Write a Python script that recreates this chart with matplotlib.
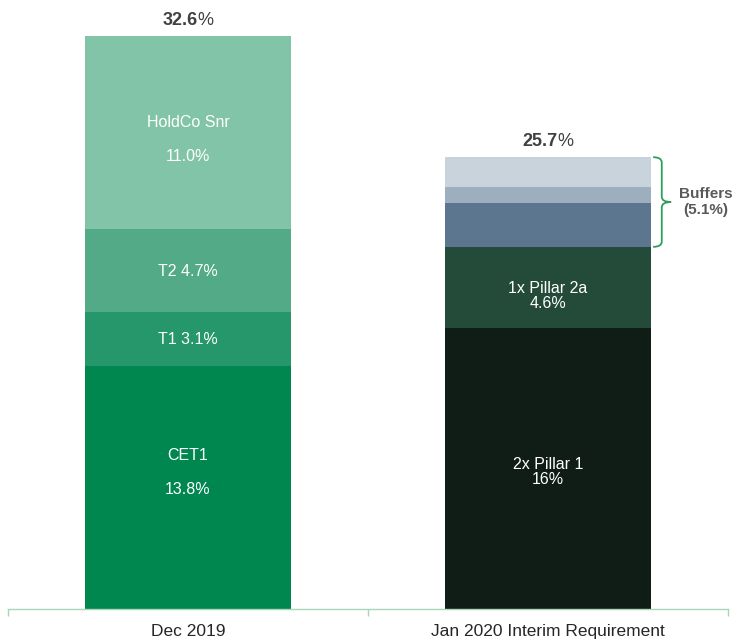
import matplotlib.pyplot as plt
from matplotlib.path import Path
from matplotlib.patches import PathPatch

plt.rcParams['font.family'] = ['Liberation Sans', 'DejaVu Sans']

# data
categories = ["Dec 2019", "Jan 2020 Interim Requirement"]
totals = [32.6, 25.7]

left_names = ["CET1", "T1", "T2", "HoldCo Snr"]
left_values = [13.8, 3.1, 4.7, 11.0]
left_colors = ["#00874F", "#25976A", "#52AA86", "#82C4A7"]

right_values = [16.0, 4.6, 2.5, 0.9, 1.7]
right_labels = ["2x Pillar 1\n16%", "1x Pillar 2a\n4.6%", "", "", ""]
right_colors = ["#101D16", "#244A3A", "#5C7690", "#9DAFBE", "#C9D3DC"]

buffer_text = "Buffers\n(5.1%)"

fig = plt.figure(figsize=(7.38, 6.41), dpi=100)
ax = fig.add_axes([8 / 738, 32 / 641, 720 / 738, 609 / 641])
ax.set_xlim(-0.5, 1.5)
ax.set_ylim(0, 609 / 17.58)

width = 0.572
white = dict(color="white", fontsize=11.5, ha="center", va="center")

# left stacked bar
bottom = 0
for name, v, c in zip(left_names, left_values, left_colors):
    ax.bar(0, v, width, bottom=bottom, color=c, linewidth=0)
    mid = bottom + v / 2
    if name == "CET1":
        ax.annotate(name, (0, mid), xytext=(0, 23), textcoords="offset points", **white)
        ax.annotate(f"{v:.1f}%", (0, mid), xytext=(0, -1), textcoords="offset points", **white)
    elif name == "HoldCo Snr":
        ax.annotate(name, (0, mid), xytext=(0, 7), textcoords="offset points", **white)
        ax.annotate(f"{v:.1f}%", (0, mid), xytext=(0, -17.5), textcoords="offset points", **white)
    else:
        ax.annotate(f"{name} {v:.1f}%", (0, mid), xytext=(0, -0.5), textcoords="offset points", **white)
    bottom += v

# right stacked bar
bottom = 0
offsets = [-2.5, -6, 0, 0, 0]
for lab, v, c, dy in zip(right_labels, right_values, right_colors, offsets):
    ax.bar(1, v, width, bottom=bottom, color=c, linewidth=0)
    if lab:
        ax.annotate(lab, (1, bottom + v / 2), xytext=(0, dy), textcoords="offset points",
                    linespacing=1.0, **white)
    bottom += v

# totals above bars (bold number, regular %)
for i, t in enumerate(totals):
    ax.annotate(f"{t:.1f}", (i, t), xytext=(6.9, 5), textcoords="offset points",
                ha="right", va="bottom", fontsize=13, fontweight="bold", color="#404040")
    ax.annotate("%", (i, t), xytext=(6.9, 5), textcoords="offset points",
                ha="left", va="bottom", fontsize=13, color="#404040")

# curly bracket for buffers
y0 = sum(right_values[:2])
y1 = sum(right_values)
ym = (y0 + y1) / 2
x0, x1, x2 = 1.292, 1.316, 1.342
d = 0.3
verts = [(x0, y0), (x1, y0), (x1, y0 + d),
         (x1, ym - d), (x1, ym), (x2, ym),
         (x1, ym), (x1, ym + d),
         (x1, y1 - d), (x1, y1), (x0, y1)]
codes = [Path.MOVETO, Path.CURVE3, Path.CURVE3,
         Path.LINETO, Path.CURVE3, Path.CURVE3,
         Path.CURVE3, Path.CURVE3,
         Path.LINETO, Path.CURVE3, Path.CURVE3]
ax.add_patch(PathPatch(Path(verts, codes), fill=False, edgecolor="#2E9E5E", lw=1.3,
                       clip_on=False))
ax.text(1.439, ym, buffer_text, ha="center", va="center", fontsize=11,
        fontweight="bold", color="#595959", linespacing=1.1)

# axes styling
for s in ["top", "right", "left"]:
    ax.spines[s].set_visible(False)
ax.spines["bottom"].set_color("#A9D6BB")
ax.spines["bottom"].set_linewidth(1.0)
ax.set_yticks([])
ax.set_xticks([-0.5, 0.5, 1.5])
ax.set_xticklabels([])
ax.tick_params(axis="x", direction="out", length=5, color="#A9D6BB", width=1.0)
ax.set_xticks([0, 1], minor=True)
ax.set_xticklabels(categories, minor=True, fontsize=12.5, color="#262626")
ax.tick_params(axis="x", which="minor", length=0, pad=11)

fig.savefig("out.png", dpi=100)
